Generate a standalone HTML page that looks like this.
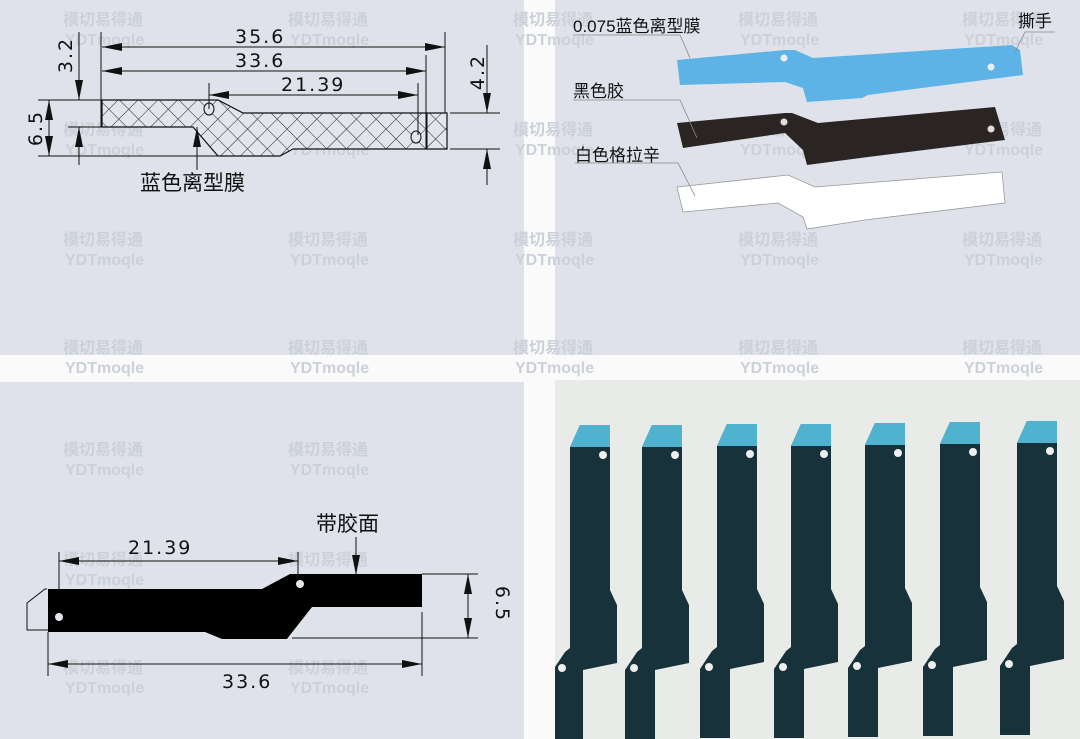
<!DOCTYPE html>
<html><head><meta charset="utf-8"><style>
html,body{margin:0;padding:0;background:#fafafb;}
svg{display:block;}
text{font-family:"Liberation Sans","Noto Sans CJK SC",sans-serif;}
.wm{fill:#ccd0d8;font-size:16px;font-weight:bold;}
.dim{font-family:"DejaVu Sans","Liberation Sans",sans-serif;font-size:19px;fill:#111;letter-spacing:2px;}
</style></head><body>
<svg width="1080" height="739" viewBox="0 0 1080 739" xmlns="http://www.w3.org/2000/svg">
<defs>
<pattern id="hatch" width="14" height="14" patternUnits="userSpaceOnUse" patternTransform="rotate(45)">
<rect width="14" height="14" fill="#e2e5ec"/>
<line x1="0" y1="0" x2="0" y2="14" stroke="#222" stroke-width="1"/>
<line x1="0" y1="0" x2="14" y2="0" stroke="#222" stroke-width="1"/>
</pattern>
<marker id="ar2" viewBox="0 0 20 8" refX="20" refY="4" markerWidth="20" markerHeight="8" orient="auto-start-reverse" markerUnits="userSpaceOnUse"><path d="M0,0 L20,4 L0,8z" fill="#111"/></marker>
<g id="s">
<path d="M0,67 L10,45 L40,45 L40,210 L47,225 L47,283 L13,290 L13,359 L-17,359 L-17,290 L-5,272 L0,268 Z" fill="#17323b"/>
<path d="M0,67 L10,45 L40,45 L40,67 Z" fill="#4fb3cf"/>
<circle cx="33" cy="75" r="4" fill="#eee"/><circle cx="-8" cy="288" r="4" fill="#eee"/>
</g>
</defs>
<rect x="0" y="0" width="524" height="355" fill="#dfe2ea"/>
<rect x="555" y="0" width="525" height="355" fill="#dfe2ea"/>
<rect x="0" y="382" width="524" height="357" fill="#dfe2ea"/>
<rect x="555" y="382" width="525" height="357" fill="#e9ebe8"/>

<g class="wm">
<text x="63" y="25">模切易得通</text><text x="65" y="45">YDTmoqle</text>
<text x="288" y="25">模切易得通</text><text x="290" y="45">YDTmoqle</text>
<text x="513" y="25">模切易得通</text><text x="515" y="45">YDTmoqle</text>
<text x="738" y="25">模切易得通</text><text x="740" y="45">YDTmoqle</text>
<text x="962" y="25">模切易得通</text><text x="964" y="45">YDTmoqle</text>
<text x="63" y="135">模切易得通</text><text x="65" y="155">YDTmoqle</text>
<text x="288" y="135">模切易得通</text><text x="290" y="155">YDTmoqle</text>
<text x="513" y="135">模切易得通</text><text x="515" y="155">YDTmoqle</text>
<text x="738" y="135">模切易得通</text><text x="740" y="155">YDTmoqle</text>
<text x="962" y="135">模切易得通</text><text x="964" y="155">YDTmoqle</text>
<text x="63" y="245">模切易得通</text><text x="65" y="265">YDTmoqle</text>
<text x="288" y="245">模切易得通</text><text x="290" y="265">YDTmoqle</text>
<text x="513" y="245">模切易得通</text><text x="515" y="265">YDTmoqle</text>
<text x="738" y="245">模切易得通</text><text x="740" y="265">YDTmoqle</text>
<text x="962" y="245">模切易得通</text><text x="964" y="265">YDTmoqle</text>
<text x="63" y="353">模切易得通</text><text x="65" y="373">YDTmoqle</text>
<text x="288" y="353">模切易得通</text><text x="290" y="373">YDTmoqle</text>
<text x="513" y="353">模切易得通</text><text x="515" y="373">YDTmoqle</text>
<text x="738" y="353">模切易得通</text><text x="740" y="373">YDTmoqle</text>
<text x="962" y="353">模切易得通</text><text x="964" y="373">YDTmoqle</text>
<text x="63" y="455">模切易得通</text><text x="65" y="475">YDTmoqle</text>
<text x="288" y="455">模切易得通</text><text x="290" y="475">YDTmoqle</text>
<text x="63" y="565">模切易得通</text><text x="65" y="585">YDTmoqle</text>
<text x="288" y="565">模切易得通</text><text x="290" y="585">YDTmoqle</text>
<text x="63" y="673">模切易得通</text><text x="65" y="693">YDTmoqle</text>
<text x="288" y="673">模切易得通</text><text x="290" y="693">YDTmoqle</text>
</g>

<path d="M102,100 L218,100 L243,113 L447,113 L447,149 L293,149 L280,156 L218,156 L193,127 L102,127 Z" fill="url(#hatch)" stroke="#111" stroke-width="1.2"/>
<line x1="427" y1="113" x2="427" y2="149" stroke="#111"/>
<ellipse cx="209" cy="109" rx="5" ry="6" fill="#e2e5ec" stroke="#111"/>
<ellipse cx="416" cy="137" rx="5" ry="6" fill="#e2e5ec" stroke="#111"/>
<g stroke="#111" stroke-width="1" fill="none">
<line x1="101" y1="32" x2="101" y2="127"/><line x1="445" y1="32" x2="445" y2="113"/>
<line x1="426" y1="55" x2="426" y2="149"/>
<line x1="209" y1="83" x2="209" y2="109"/><line x1="418" y1="83" x2="418" y2="135"/>
<line x1="102" y1="47" x2="445" y2="47" marker-start="url(#ar2)" marker-end="url(#ar2)"/>
<line x1="102" y1="71" x2="426" y2="71" marker-start="url(#ar2)" marker-end="url(#ar2)"/>
<line x1="209" y1="95" x2="418" y2="95" marker-start="url(#ar2)" marker-end="url(#ar2)"/>
<line x1="38" y1="100" x2="102" y2="100"/><line x1="38" y1="156" x2="218" y2="156"/>
<line x1="68" y1="127" x2="102" y2="127"/>
<line x1="49" y1="100" x2="49" y2="156" marker-start="url(#ar2)" marker-end="url(#ar2)"/>
<line x1="79" y1="32" x2="79" y2="100" marker-end="url(#ar2)"/>
<line x1="79" y1="165" x2="79" y2="127" marker-end="url(#ar2)"/>
<line x1="450" y1="113" x2="500" y2="113"/><line x1="450" y1="149" x2="500" y2="149"/>
<line x1="487" y1="45" x2="487" y2="113" marker-end="url(#ar2)"/>
<line x1="487" y1="185" x2="487" y2="149" marker-end="url(#ar2)"/>
<line x1="197" y1="170" x2="197" y2="127" marker-end="url(#ar2)"/>
</g>
<text class="dim" x="235" y="43">35.6</text>
<text class="dim" x="235" y="67">33.6</text>
<text class="dim" x="281" y="91">21.39</text>
<text class="dim" transform="translate(42,128) rotate(-90)" text-anchor="middle">6.5</text>
<text class="dim" transform="translate(72,55) rotate(-90)" text-anchor="middle">3.2</text>
<text class="dim" transform="translate(484,72) rotate(-90)" text-anchor="middle">4.2</text>
<text x="140" y="190" font-size="21" fill="#111">蓝色离型膜</text>

<path d="M677,60 L785,50 L795,50 L813,58 L1012,45 L1020,50 L1023,75 L868,95 L862,98 L807,102 L803,88 L785,82 L680,85 Z" fill="#5eb3e6"/>
<circle cx="784" cy="58" r="3.5" fill="#e8eef3"/><circle cx="991" cy="67" r="3.5" fill="#e8eef3"/>
<path d="M677,123 L785,113 L792,113 L818,123 L995,107 L1005,140 L868,157 L807,165 L803,150 L785,133 L683,148 Z" fill="#2a2422"/>
<circle cx="784" cy="122" r="3.5" fill="#ddd"/><circle cx="991" cy="129" r="3.5" fill="#ddd"/>
<path d="M677,187 L788,175 L815,187 L1002,172 L1005,203 L865,220 L807,229 L803,217 L778,203 L683,212 Z" fill="#ffffff" stroke="#999" stroke-width="0.8"/>
<g stroke="#888" stroke-width="0.8" fill="none">
<polyline points="573,35 680,35 690,58"/>
<polyline points="573,100 680,100 697,138"/>
<polyline points="575,163 678,163 695,196"/>
<polyline points="1055,32 1025,32 1015,52"/>
</g>
<text x="573" y="32" font-size="17" fill="#111">0.075蓝色离型膜</text>
<text x="1018" y="27" font-size="17" fill="#111">撕手</text>
<text x="573" y="97" font-size="17" fill="#111">黑色胶</text>
<text x="575" y="161" font-size="17" fill="#111">白色格拉辛</text>

<path d="M48,589 L262,589 L290,574 L422,574 L422,607 L312,607 L290,635 L287,639 L222,639 L205,632 L48,632 Z" fill="#000"/>
<circle cx="300" cy="584" r="4" fill="#e2e5ec"/><circle cx="59" cy="617" r="4" fill="#e2e5ec"/>
<g stroke="#111" stroke-width="1" fill="none">
<polyline points="47,589 45,589 27,603 27,630 48,630"/>
<line x1="59" y1="552" x2="59" y2="590"/><line x1="298" y1="552" x2="298" y2="578"/>
<line x1="59" y1="561" x2="298" y2="561" marker-start="url(#ar2)" marker-end="url(#ar2)"/>
<line x1="48" y1="632" x2="48" y2="676"/><line x1="422" y1="612" x2="422" y2="676"/>
<line x1="48" y1="664" x2="422" y2="664" marker-start="url(#ar2)" marker-end="url(#ar2)"/>
<line x1="422" y1="574" x2="478" y2="574"/><line x1="292" y1="638" x2="478" y2="638"/>
<line x1="468" y1="574" x2="468" y2="638" marker-start="url(#ar2)" marker-end="url(#ar2)"/>
<line x1="356" y1="537" x2="356" y2="575" marker-end="url(#ar2)"/>
</g>
<text class="dim" x="128" y="554">21.39</text>
<text class="dim" x="222" y="688">33.6</text>
<text class="dim" transform="translate(496,604) rotate(90)" text-anchor="middle">6.5</text>
<text x="316" y="531" font-size="21" fill="#111">带胶面</text>

<svg x="555" y="380" width="525" height="359" viewBox="0 0 525 359">
<rect x="0" y="0" width="525" height="359" fill="#e9ebe8"/>
<use href="#s" x="15" y="0"/>
<use href="#s" x="87" y="0"/>
<use href="#s" x="162" y="-1"/>
<use href="#s" x="236" y="-1"/>
<use href="#s" x="310" y="-2"/>
<use href="#s" x="385" y="-3"/>
<use href="#s" x="462" y="-4"/>
</svg>
</svg>
</body></html>
